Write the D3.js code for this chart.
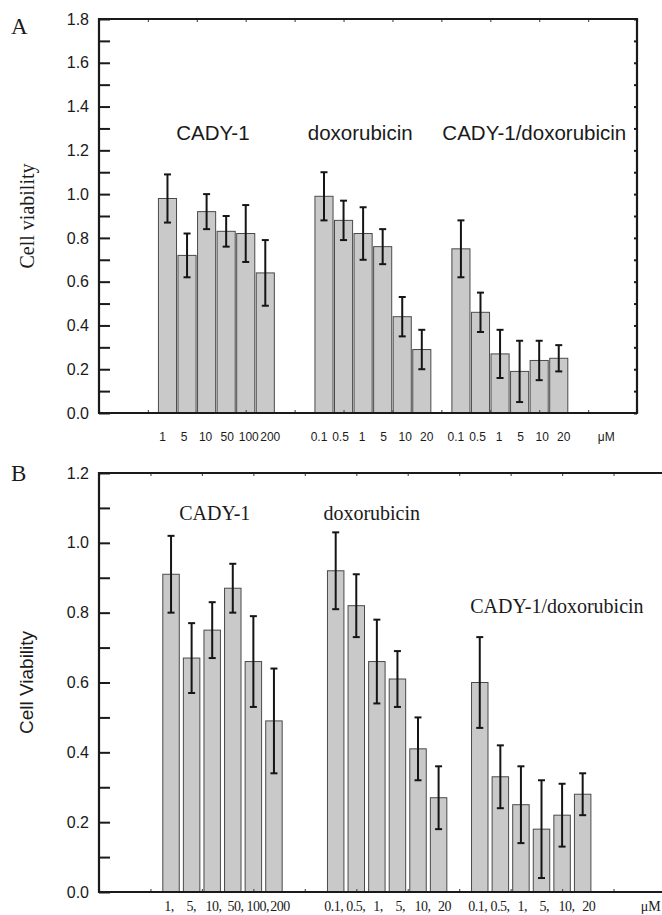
<!DOCTYPE html>
<html>
<head>
<meta charset="utf-8">
<script src="https://cdn.jsdelivr.net/npm/d3@7"></script>
<style>
body { margin: 0; background: #fff; }
</style>
</head>
<body>
<svg id="chart" width="662" height="915"></svg>
<script>

// ==================== Data ====================
var groups = ["CADY-1", "doxorubicin", "CADY-1/doxorubicin"];
var groupStart = [1.4, 4.6, 7.4];   // x position (axis units) of first bar in each group
var barStep = 0.4;

var dosesA = [["1", "5", "10", "50", "100", "200"],
              ["0.1", "0.5", "1", "5", "10", "20"],
              ["0.1", "0.5", "1", "5", "10", "20"]];
var viabilityA = [0.98, 0.72, 0.92, 0.83, 0.82, 0.64,
                  0.99, 0.88, 0.82, 0.76, 0.44, 0.29,
                  0.75, 0.46, 0.27, 0.19, 0.24, 0.25];
var errorA = [0.11, 0.10, 0.08, 0.07, 0.13, 0.15,
              0.11, 0.09, 0.12, 0.08, 0.09, 0.09,
              0.13, 0.09, 0.11, 0.14, 0.09, 0.06];

var dosesB = [["1,", "5,", "10,", "50,", "100,", "200"],
              ["0.1,", "0.5,", "1,", "5,", "10,", "20"],
              ["0.1,", "0.5,", "1,", "5,", "10,", "20"]];
var viabilityB = [0.91, 0.67, 0.75, 0.87, 0.66, 0.49,
                  0.92, 0.82, 0.66, 0.61, 0.41, 0.27,
                  0.60, 0.33, 0.25, 0.18, 0.22, 0.28];
var errorB = [0.11, 0.10, 0.08, 0.07, 0.13, 0.15,
              0.11, 0.09, 0.12, 0.08, 0.09, 0.09,
              0.13, 0.09, 0.11, 0.14, 0.09, 0.06];

var yTicksA = d3.range(0, 19).map(function(i){ return i / 10; });
var yTicksB = d3.range(0, 13).map(function(i){ return i / 10; });

var sans = "'Liberation Sans', Arial, sans-serif";
var serif = "'Liberation Serif', 'Times New Roman', serif";

var svg = d3.select("#chart");

function drawPanel(p){
	var x = d3.scaleLinear().domain([0, 11]).range([p.left, p.right]);
	var y = d3.scaleLinear().domain([0, p.yMax]).range([p.bottom, p.top]);
	var g = svg.append("g");

	var bars = [];
	p.values.forEach(function(v, i){
		var gi = Math.floor(i / 6), j = i % 6;
		bars.push({v: v, e: p.errors[i], pos: groupStart[gi] + j * barStep, j: j, label: p.doses[gi][j]});
	});
	var bw = x(p.barWidth) - x(0);

	// ==================== Bars ====================
	g.selectAll(".bar")
		.data(bars)
		.enter()
		.append("rect")
			.attr("class", "bar")
			.attr("x", function(d){ return x(d.pos) - bw / 2; })
			.attr("y", function(d){ return y(d.v); })
			.attr("width", bw)
			.attr("height", function(d){ return y(0) - y(d.v); })
			.attr("fill", "#c9c9c9")
			.attr("stroke", "#4a4a4a")
			.attr("stroke-width", 1);

	// ==================== Error bars ====================
	var err = g.selectAll(".err").data(bars).enter().append("g").attr("class", "err")
		.attr("stroke", "#151515").attr("stroke-width", 2);
	err.append("line")
		.attr("x1", function(d){ return x(d.pos); })
		.attr("x2", function(d){ return x(d.pos); })
		.attr("y1", function(d){ return y(d.v + d.e); })
		.attr("y2", function(d){ return y(d.v - d.e); });
	[1, -1].forEach(function(s){
		err.append("line")
			.attr("x1", function(d){ return x(d.pos) - 3.5; })
			.attr("x2", function(d){ return x(d.pos) + 3.5; })
			.attr("y1", function(d){ return y(d.v + s * d.e); })
			.attr("y2", function(d){ return y(d.v + s * d.e); });
	});

	// ==================== Axes ====================
	var yAxis = g.append("g")
		.attr("transform", "translate(" + p.left + ",0)")
		.call(d3.axisLeft(y).tickValues(p.yTicks).tickSize(-11).tickPadding(10)
			.tickFormat(function(d){ return Math.round(d * 10) % 2 === 0 ? d3.format(".1f")(d) : ""; }));
	yAxis.select(".domain").remove();
	yAxis.selectAll("line").attr("stroke", "#1a1a1a").attr("stroke-width", 2);
	yAxis.selectAll("text").attr("font-family", sans).attr("font-size", 16).attr("fill", "#1a1a1a");

	var topAxis = g.append("g")
		.attr("transform", "translate(0," + p.top + ")")
		.call(d3.axisTop(x).ticks(11).tickSize(-3).tickFormat(""));
	var botAxis = g.append("g")
		.attr("transform", "translate(0," + p.bottom + ")")
		.call(d3.axisBottom(x).ticks(11).tickSize(-3).tickFormat(""));
	[topAxis, botAxis].forEach(function(a){
		a.select(".domain").remove();
		a.selectAll("line").attr("stroke", "#555").attr("stroke-width", 1.2);
	});

	if(p.rightAxis){
		var rAxis = g.append("g")
			.attr("transform", "translate(" + p.right + ",0)")
			.call(d3.axisRight(y).tickValues(p.yTicks).tickSize(-3).tickFormat(""));
		rAxis.select(".domain").remove();
		rAxis.selectAll("line").attr("stroke", "#1a1a1a").attr("stroke-width", 2);
	}

	// frame lines
	var frame = g.append("g").attr("stroke", "#1a1a1a").attr("stroke-width", 2.2).attr("fill", "none");
	frame.append("line").attr("x1", p.left).attr("x2", p.left).attr("y1", p.top - 1).attr("y2", p.bottom + 1);
	frame.append("line").attr("x1", p.left).attr("x2", p.right + 1).attr("y1", p.top).attr("y2", p.top);
	frame.append("line").attr("x1", p.left).attr("x2", p.right + 1).attr("y1", p.bottom).attr("y2", p.bottom);
	if(p.rightAxis){
		frame.append("line").attr("x1", p.right).attr("x2", p.right).attr("y1", p.top - 1).attr("y2", p.bottom + 1);
	}

	// ==================== Dose labels ====================
	//spread a little wider than the bars so long labels do not touch
	g.selectAll(".dose")
		.data(bars)
		.enter()
		.append("text")
			.attr("class", "dose")
			.attr("x", function(d){ return x(d.pos) + p.doseShift + (d.j - 2.5) * p.doseSpread; })
			.attr("y", p.doseY)
			.attr("text-anchor", "middle")
			.attr("font-family", p.doseFont)
			.attr("font-size", p.doseSize)
			.attr("letter-spacing", p.doseTrack)
			.attr("fill", "#1a1a1a")
			.text(function(d){ return d.label; });

	g.append("text")
		.attr("x", x(p.unitX))
		.attr("y", p.doseY)
		.attr("font-family", p.doseFont)
		.attr("font-size", p.doseSize)
		.attr("fill", "#1a1a1a")
		.text("\u03bcM");

	// ==================== Group names ====================
	g.selectAll(".group")
		.data(groups)
		.enter()
		.append("text")
			.attr("class", "group")
			.attr("x", function(d, i){ return x(p.groupX[i]); })
			.attr("y", function(d, i){ return y(p.groupY[i]); })
			.attr("text-anchor", "middle")
			.attr("font-family", p.groupFont)
			.attr("font-size", p.groupSize)
			.attr("fill", "#1a1a1a")
			.text(function(d){ return d; });

	// y title
	g.append("text")
		.attr("transform", "translate(" + p.titleX + "," + ((p.top + p.bottom) / 2) + ") rotate(-90)")
		.attr("text-anchor", "middle")
		.attr("font-family", p.titleFont)
		.attr("font-size", p.titleSize)
		.attr("fill", "#1a1a1a")
		.text(p.title);

	// panel letter
	g.append("text")
		.attr("x", 11)
		.attr("y", p.letterY)
		.attr("font-family", serif)
		.attr("font-size", 23)
		.attr("fill", "#1a1a1a")
		.text(p.letter);
}

drawPanel({
	letter: "A", letterY: 34,
	left: 99, right: 637, top: 19, bottom: 413, yMax: 1.8, yTicks: yTicksA,
	rightAxis: true,
	values: viabilityA, errors: errorA, doses: dosesA, barWidth: 0.37,
	doseY: 441, doseFont: sans, doseSize: 12, doseShift: 0, doseSpread: 2, doseTrack: 0, unitX: 10.2,
	groupX: [2.33, 5.34, 8.9], groupY: [1.245, 1.245, 1.245], groupFont: sans, groupSize: 20.5,
	title: "Cell viability", titleFont: serif, titleSize: 20, titleX: 34
});

drawPanel({
	letter: "B", letterY: 481,
	left: 99, right: 665, top: 473, bottom: 892, yMax: 1.2, yTicks: yTicksB,
	rightAxis: false,
	values: viabilityB, errors: errorB, doses: dosesB, barWidth: 0.32,
	doseY: 911, doseFont: serif, doseSize: 14, doseShift: 2, doseSpread: 1.6, doseTrack: -0.5, unitX: 10.53,
	groupX: [2.25, 5.3, 8.9], groupY: [1.066, 1.066, 0.80], groupFont: serif, groupSize: 20,
	title: "Cell Viability", titleFont: sans, titleSize: 19, titleX: 33
});

</script>
</body>
</html>
